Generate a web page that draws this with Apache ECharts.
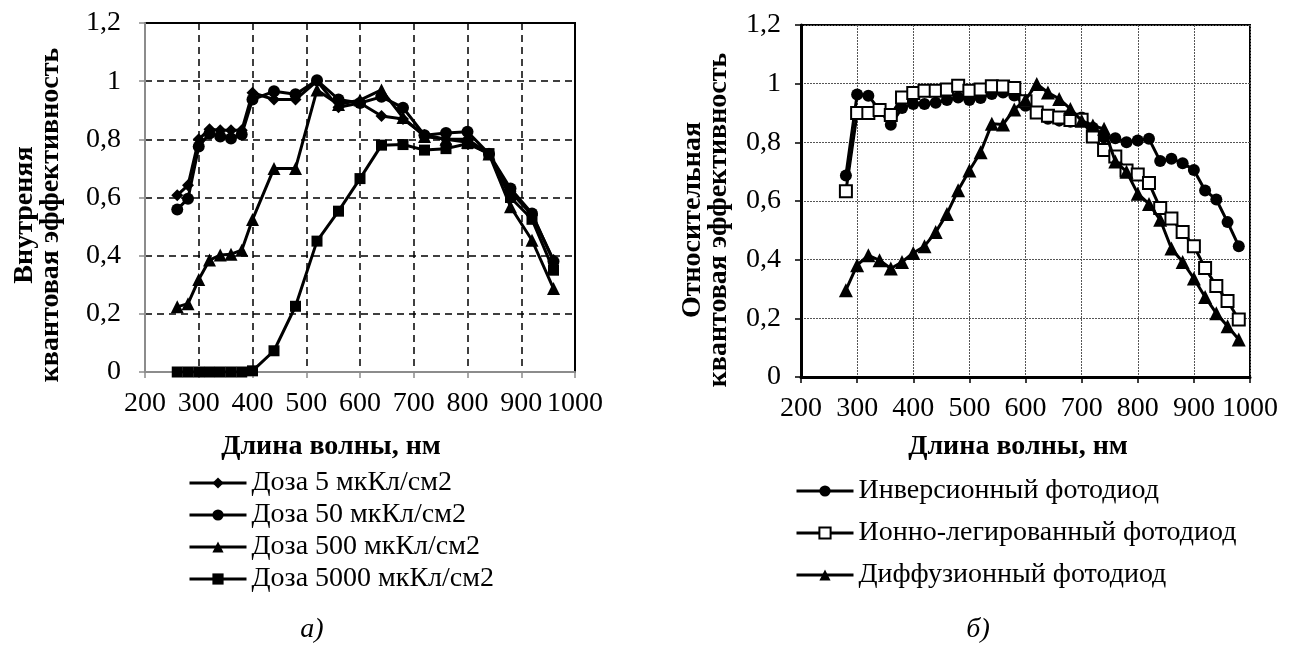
<!DOCTYPE html>
<html>
<head>
<meta charset="utf-8">
<script src="https://cdn.jsdelivr.net/npm/echarts@6/dist/echarts.min.js"></script>
<style>
html,body{margin:0;padding:0;background:#fff;}
#chart{width:1296px;height:655px;}
</style>
</head>
<body>
<div id="chart"></div>
<script>
// ---- Left chart (а) data ----
const X_LEFT = [260,280,300,320,340,360,380,400,440,480,520,560,600,640,680,720,760,800,840,880,920,960];
const DOSE_5    = [0.608,0.642,0.800,0.835,0.831,0.831,0.831,0.960,0.937,0.937,1.000,0.910,0.925,0.880,0.870,0.815,0.800,0.800,0.750,0.620,0.540,0.385];
const DOSE_50   = [0.559,0.596,0.775,0.820,0.810,0.803,0.817,0.937,0.965,0.955,1.003,0.937,0.925,0.946,0.909,0.814,0.822,0.826,0.750,0.631,0.545,0.380];
const DOSE_500  = [0.224,0.235,0.318,0.385,0.402,0.405,0.419,0.524,0.700,0.700,0.970,0.920,0.935,0.970,0.875,0.810,0.800,0.790,0.750,0.568,0.453,0.287];
const DOSE_5000 = [0,0,0,0,0,0,0,0.004,0.073,0.226,0.450,0.553,0.665,0.780,0.782,0.763,0.768,0.785,0.751,0.600,0.525,0.350];
const LEFT_NAMES = ['Доза 5 мкКл/см2','Доза 50 мкКл/см2','Доза 500 мкКл/см2','Доза 5000 мкКл/см2'];

// ---- Right chart (б) data ----
const X_RIGHT = [280,300,320,340,360,380,400,420,440,460,480,500,520,540,560,580,600,620,640,660,680,700,720,740,760,780,800,820,840,860,880,900,920,940,960,980];
const INVERSION = [0.687,0.963,0.959,0.910,0.860,0.917,0.931,0.931,0.935,0.944,0.953,0.944,0.951,0.965,0.970,0.960,0.925,0.900,0.880,0.874,0.870,0.885,0.850,0.817,0.814,0.800,0.806,0.812,0.736,0.744,0.729,0.706,0.636,0.605,0.528,0.446];
const ION_DOPED = [0.633,0.900,0.900,0.910,0.893,0.953,0.968,0.976,0.976,0.980,0.993,0.976,0.980,0.991,0.990,0.985,0.940,0.902,0.891,0.885,0.876,0.877,0.820,0.774,0.752,0.704,0.690,0.661,0.576,0.540,0.494,0.446,0.372,0.310,0.259,0.196];
const DIFFUSION = [0.296,0.381,0.415,0.398,0.370,0.392,0.423,0.446,0.494,0.556,0.637,0.704,0.766,0.863,0.861,0.912,0.945,0.999,0.970,0.948,0.914,0.874,0.857,0.846,0.735,0.700,0.625,0.590,0.536,0.438,0.392,0.336,0.273,0.217,0.173,0.128];
const RIGHT_NAMES = ['Инверсионный фотодиод','Ионно-легированный фотодиод','Диффузионный фотодиод'];

const X_TITLE = 'Длина волны, нм';
const Y_TITLE_LEFT = 'Внутреняя\nквантовая эффективность';
const Y_TITLE_RIGHT = 'Относительная\nквантовая эффективность';

const FONT = '"Liberation Serif", "Times New Roman", serif';
const pairs = (xs, ys) => xs.map((x, i) => [x, ys[i]]);
const comma = v => String(Math.round(v * 10) / 10).replace('.', ',');
const plain = v => String(Math.round(v));

function xAxisCfg(gridIndex, axisColor, axisW, margin) {
  return {
    type: 'value', gridIndex, min: 200, max: 1000, interval: 100,
    axisLine: { show: true, onZero: false, lineStyle: { color: axisColor, width: axisW } },
    axisTick: { show: true, length: 6, lineStyle: { color: axisColor, width: 1.5 } },
    axisLabel: { color: '#000', fontSize: 28, fontFamily: FONT, margin, formatter: plain, hideOverlap: false, showMinLabel: true, showMaxLabel: true },
    splitLine: { show: false }
  };
}
function yAxisCfg(gridIndex, axisColor, axisW, margin) {
  return {
    type: 'value', gridIndex, min: 0, max: 1.2, interval: 0.2,
    axisLine: { show: true, onZero: false, lineStyle: { color: axisColor, width: axisW } },
    axisTick: { show: true, length: 6, lineStyle: { color: axisColor, width: 1.5 } },
    axisLabel: { color: '#000', fontSize: 28, fontFamily: FONT, margin, formatter: comma, showMinLabel: true, showMaxLabel: true },
    splitLine: { show: false }
  };
}

const leftSymbols = [['diamond', 12], ['circle', 12], ['triangle', 13], ['rect', 11]];
const leftData = [DOSE_5, DOSE_50, DOSE_500, DOSE_5000];

const series = [];
leftData.forEach((ys, i) => {
  series.push({
    name: LEFT_NAMES[i], type: 'line', xAxisIndex: 0, yAxisIndex: 0,
    data: pairs(X_LEFT, ys), symbol: leftSymbols[i][0], symbolSize: leftSymbols[i][1],
    showAllSymbol: true, animation: false,
    itemStyle: { color: '#000' }, lineStyle: { color: '#000', width: 3 }, z: 5 + i
  });
});
series.push({
  name: RIGHT_NAMES[0], type: 'line', xAxisIndex: 1, yAxisIndex: 1,
  data: pairs(X_RIGHT, INVERSION), symbol: 'circle', symbolSize: 12, showAllSymbol: true, animation: false,
  itemStyle: { color: '#000' }, lineStyle: { color: '#000', width: 3 }, z: 5
});
series.push({
  name: RIGHT_NAMES[1], type: 'line', xAxisIndex: 1, yAxisIndex: 1,
  data: pairs(X_RIGHT, ION_DOPED), symbol: 'rect', symbolSize: 12, showAllSymbol: true, animation: false,
  itemStyle: { color: '#fff', borderColor: '#000', borderWidth: 2 }, lineStyle: { color: '#000', width: 3 }, z: 6
});
series.push({
  name: RIGHT_NAMES[2], type: 'line', xAxisIndex: 1, yAxisIndex: 1,
  data: pairs(X_RIGHT, DIFFUSION), symbol: 'triangle', symbolSize: 14, showAllSymbol: true, animation: false,
  itemStyle: { color: '#000' }, lineStyle: { color: '#000', width: 3 }, z: 7
});

const xL = xAxisCfg(0, '#8c8c8c', 2, 18);
xL.splitLine = { show: true, lineStyle: { color: '#000', type: [7, 5], width: 1.5 } };
const yL = yAxisCfg(0, '#8c8c8c', 2, 24);
yL.splitLine = { show: true, lineStyle: { color: '#000', type: [7, 5], width: 1.5 } };
const xR = xAxisCfg(1, '#000', 3, 18);
xR.splitLine = { show: true, lineStyle: { color: '#555', type: [2, 1], width: 1 } };
const yR = yAxisCfg(1, '#000', 3, 20);
yR.splitLine = { show: true, lineStyle: { color: '#555', type: [2, 1], width: 1 } };

const chart = echarts.init(document.getElementById('chart'), null, { renderer: 'canvas' });
chart.setOption({
  backgroundColor: '#fff',
  animation: false,
  grid: [
    { left: 145, top: 23, width: 430, height: 349, show: true, borderColor: '#000', borderWidth: 2, backgroundColor: 'transparent', containLabel: false, outerBoundsMode: 'none' },
    { left: 801, top: 25, width: 449, height: 352, show: true, borderColor: '#000', borderWidth: 2, backgroundColor: 'transparent', containLabel: false, outerBoundsMode: 'none' }
  ],
  xAxis: [xL, xR],
  yAxis: [yL, yR],
  legend: [
    {
      data: LEFT_NAMES, orient: 'vertical', left: 183, top: 462, itemGap: 0,
      itemWidth: 57, itemHeight: 14, lineStyle: { width: 3 },
      textStyle: { fontSize: 28, fontFamily: FONT, color: '#000', lineHeight: 32 },
      selectedMode: false
    },
    {
      data: RIGHT_NAMES, orient: 'vertical', left: 790, top: 465, itemGap: 0,
      itemWidth: 57, itemHeight: 14, lineStyle: { width: 3 },
      textStyle: { fontSize: 28, fontFamily: FONT, color: '#000', lineHeight: 42 },
      selectedMode: false
    }
  ],
  graphic: [
    { type: 'text', x: 38, y: 215, rotation: Math.PI / 2,
      style: { text: Y_TITLE_LEFT, font: 'bold 28px ' + FONT, fill: '#000', align: 'center', verticalAlign: 'middle', lineHeight: 26 } },
    { type: 'text', x: 706, y: 220, rotation: Math.PI / 2,
      style: { text: Y_TITLE_RIGHT, font: 'bold 28px ' + FONT, fill: '#000', align: 'center', verticalAlign: 'middle', lineHeight: 26 } },
    { type: 'text', x: 331, y: 447,
      style: { text: X_TITLE, font: 'bold 28px ' + FONT, fill: '#000', align: 'center', verticalAlign: 'middle' } },
    { type: 'text', x: 1018, y: 447,
      style: { text: X_TITLE, font: 'bold 28px ' + FONT, fill: '#000', align: 'center', verticalAlign: 'middle' } },
    { type: 'text', x: 312, y: 630,
      style: { text: 'а)', font: 'italic 28px ' + FONT, fill: '#000', align: 'center', verticalAlign: 'middle' } },
    { type: 'text', x: 978, y: 630,
      style: { text: 'б)', font: 'italic 28px ' + FONT, fill: '#000', align: 'center', verticalAlign: 'middle' } }
  ],
  series
});
</script>
</body>
</html>
